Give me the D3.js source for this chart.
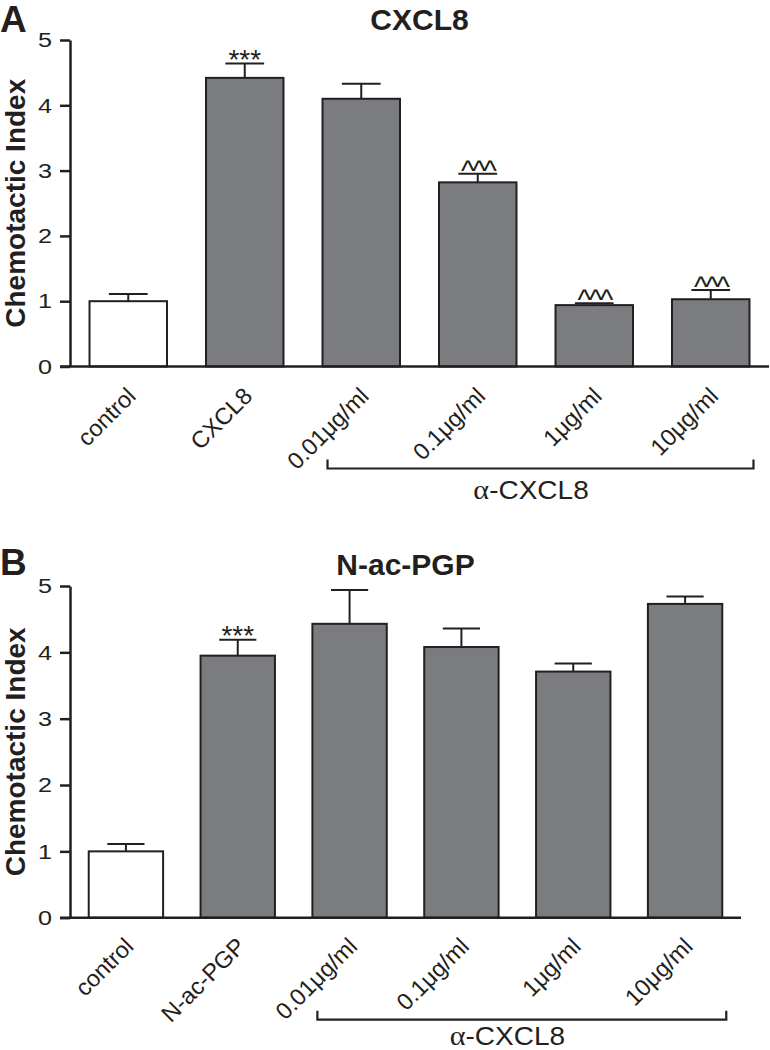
<!DOCTYPE html>
<html>
<head>
<meta charset="utf-8">
<script src="https://cdn.jsdelivr.net/npm/d3@7"></script>
<style>
  html, body { margin: 0; padding: 0; background: #fff; }
  svg { display: block; }
  text { font-family: "Liberation Sans", Arial, Helvetica, sans-serif; fill: #231f20; }
</style>
</head>
<body>
<svg id="chart" width="770" height="1050"></svg>
<script>
// ---------- data ----------
const categoriesA = ["control", "CXCL8", "0.01μg/ml", "0.1μg/ml", "1μg/ml", "10μg/ml"];
const meansA      = [1.00, 4.42, 4.10, 2.82, 0.94, 1.03];
const errorsA     = [0.11, 0.22, 0.23, 0.13, 0.03, 0.14];
const sigA        = ["", "***", "", "^^^", "^^^", "^^^"];

const categoriesB = ["control", "N-ac-PGP", "0.01μg/ml", "0.1μg/ml", "1μg/ml", "10μg/ml"];
const meansB      = [1.00, 3.95, 4.43, 4.08, 3.71, 4.73];
const errorsB     = [0.11, 0.24, 0.51, 0.28, 0.12, 0.11];
const sigB        = ["", "***", "", "", "", ""];

const yTicks = [0, 1, 2, 3, 4, 5];
const yLabel = "Chemotactic Index";
const bracketLabel = "CXCL8";   // prefixed by α

const INK = "#231f20";
const GRAY = "#7b7c80";

const svg = d3.select("#chart");

function drawPanel(opt) {
  const g = svg.append("g");
  const x = d3.scaleBand().domain(opt.categories).range([70, opt.xEnd])
              .paddingInner(0.335).paddingOuter(0.1675);
  const y = d3.scaleLinear().domain([0, 5]).range([opt.y0, opt.y5]);
  const bw = x.bandwidth();

  // panel letter and title
  g.append("text").attr("x", 0).attr("y", opt.letterY)
    .attr("font-size", 37).attr("font-weight", "bold").text(opt.letter);
  g.append("text").attr("x", (70 + opt.xEnd) / 2).attr("y", opt.titleY)
    .attr("text-anchor", "middle").attr("font-size", 30).attr("font-weight", "bold")
    .text(opt.title);

  // y axis
  const yAxis = d3.axisLeft(y).tickValues(yTicks).tickFormat(d3.format("d"))
                  .tickSizeInner(10).tickSizeOuter(0).tickPadding(8);
  const ya = g.append("g").attr("transform", "translate(70,0)").call(yAxis);
  ya.attr("font-family", null).attr("font-size", null);
  ya.select(".domain").attr("stroke", INK).attr("stroke-width", 2.5);
  ya.selectAll(".tick line").attr("stroke", INK).attr("stroke-width", 2.5);
  const sx = 1.2;
  ya.selectAll(".tick text")
    .attr("font-size", 21).attr("fill", INK)
    .attr("x", -18 / sx).attr("transform", `scale(${sx},1)`);

  // y label
  g.append("text")
    .attr("transform", `translate(25,${(opt.y0 + opt.y5) / 2}) rotate(-90)`)
    .attr("text-anchor", "middle").attr("font-size", 28).attr("font-weight", "bold")
    .text(yLabel);

  const data = opt.categories.map((c, i) => ({ c, m: opt.means[i], e: opt.errors[i], s: opt.sig[i], i }));

  // error bars
  const eb = g.append("g").attr("stroke", INK).attr("stroke-width", 2);
  eb.selectAll("line.stem").data(data).join("line")
    .attr("x1", d => x(d.c) + bw / 2).attr("x2", d => x(d.c) + bw / 2)
    .attr("y1", d => y(d.m)).attr("y2", d => y(d.m + d.e));
  eb.selectAll("line.cap").data(data).join("line")
    .attr("x1", d => x(d.c) + bw / 4).attr("x2", d => x(d.c) + bw * 3 / 4)
    .attr("y1", d => y(d.m + d.e)).attr("y2", d => y(d.m + d.e));

  // bars
  g.append("g").selectAll("rect").data(data).join("rect")
    .attr("x", d => x(d.c)).attr("width", bw)
    .attr("y", d => y(d.m)).attr("height", d => y(0) - y(d.m))
    .attr("fill", d => d.i === 0 ? "#ffffff" : GRAY)
    .attr("stroke", INK).attr("stroke-width", 2);

  // significance markers
  g.append("g").selectAll("text").data(data.filter(d => d.s)).join("text")
    .attr("x", d => x(d.c) + bw / 2)
    .attr("y", d => y(d.m + d.e) + (d.s === "***" ? 5 : 7))
    .attr("text-anchor", "middle")
    .attr("font-size", d => d.s === "***" ? 28 : 29)
    .attr("letter-spacing", d => d.s === "***" ? 0 : -2.5)
    .text(d => d.s);

  // x axis baseline
  g.append("line").attr("x1", 60).attr("x2", opt.xEnd).attr("y1", y(0)).attr("y2", y(0))
    .attr("stroke", INK).attr("stroke-width", 2.5);

  // x labels
  g.append("g").selectAll("text").data(data).join("text")
    .attr("transform", d => `translate(${x(d.c) + bw / 2 + 9},${y(0) + opt.labelDrop}) rotate(-45)`)
    .attr("text-anchor", "end").attr("font-size", 23.5)
    .text(d => d.c);

  // bracket
  const bx1 = x(opt.categories[2]) + 5;
  const bx2 = x(opt.categories[5]) + bw + 4;
  const by = y(0) + 102;
  g.append("path")
    .attr("d", `M${bx1},${by - 9}V${by}H${bx2}V${by - 9}`)
    .attr("fill", "none").attr("stroke", INK).attr("stroke-width", 2.2);
  const midX = (x(opt.categories[3]) + x(opt.categories[4]) + bw) / 2 + opt.labelShift;
  const sl = 1.12;
  const t = g.append("text")
    .attr("transform", `translate(${midX},${by + opt.textDrop}) scale(${sl},1)`)
    .attr("text-anchor", "middle").attr("font-size", 25);
  t.append("tspan").attr("font-family", "'Liberation Serif', 'Times New Roman', serif")
    .attr("font-size", 27).text("α");
  t.append("tspan").text("-" + bracketLabel);
}

drawPanel({
  letter: "A", letterY: 32, title: "CXCL8", titleY: 30,
  categories: categoriesA, means: meansA, errors: errorsA, sig: sigA,
  xEnd: 769, y0: 366.5, y5: 40, labelShift: -5, labelDrop: 31, textDrop: 30
});

drawPanel({
  letter: "B", letterY: 575, title: "N-ac-PGP", titleY: 575,
  categories: categoriesB, means: meansB, errors: errorsB, sig: sigB,
  xEnd: 741, y0: 917.7, y5: 586, labelShift: -10, labelDrop: 30, textDrop: 25
});
</script>
</body>
</html>
